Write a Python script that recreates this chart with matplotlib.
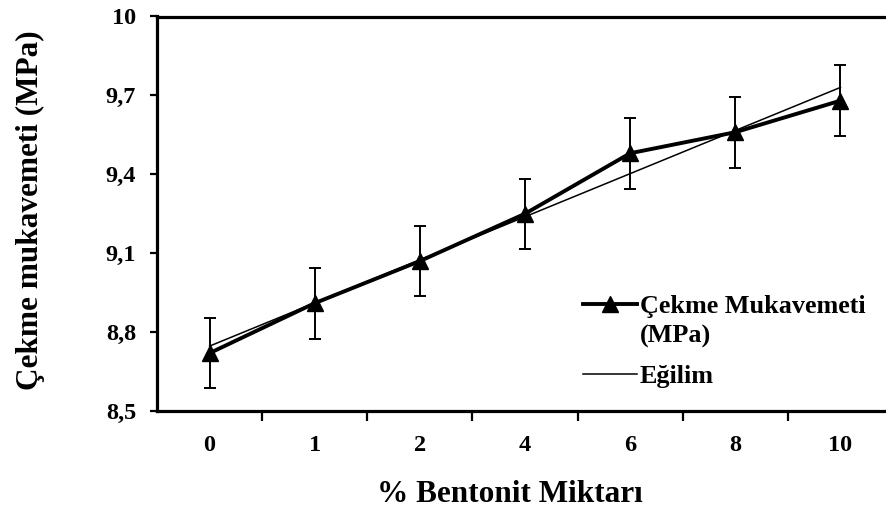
import numpy as np
import matplotlib
matplotlib.use("Agg")
import matplotlib.pyplot as plt
from matplotlib.ticker import FixedLocator, FuncFormatter

plt.rcParams['font.family'] = ['Liberation Serif', 'DejaVu Serif']
plt.rcParams['font.weight'] = 'bold'

categories = ["0", "1", "2", "4", "6", "8", "10"]
strength = [8.72, 8.91, 9.07, 9.25, 9.48, 9.56, 9.68]
strength_err = [0.133, 0.135, 0.133, 0.133, 0.135, 0.135, 0.134]
y_ticks = [8.5, 8.8, 9.1, 9.4, 9.7, 10.0]

W, H = 887, 512
fig = plt.figure(figsize=(W / 100, H / 100), dpi=100)
ax = fig.add_axes([157 / W, 1 - 411 / H, (893 - 157) / W, (411 - 16.5) / H])

pos = np.arange(len(categories))

# linear trend over the category positions
coef = np.polyfit(pos, strength, 1)
trend = np.polyval(coef, pos)

ax.errorbar(pos, strength, yerr=strength_err, fmt='none', ecolor='black',
            elinewidth=1.4, capsize=4.5, capthick=1.4, zorder=2)
line_main, = ax.plot(pos, strength, color='black', lw=2.8, marker='^',
                     markersize=12, markerfacecolor='black',
                     markeredgecolor='black', zorder=3,
                     label='Çekme Mukavemeti\n(MPa)')
line_trend, = ax.plot(pos[[0, -1]], trend[[0, -1]], color='black', lw=1.1,
                      zorder=4, label='Eğilim')

ax.set_xlim(-0.5, len(categories) - 0.5)
ax.set_ylim(8.5, 10.0)

ax.set_yticks(y_ticks)
ax.yaxis.set_major_formatter(FuncFormatter(
    lambda v, p: ('%g' % v).replace('.', ',')))

# tick marks between categories, labels at category centres
ax.xaxis.set_major_locator(FixedLocator(np.arange(0.5, len(categories) - 0.5, 1.0)))
ax.xaxis.set_major_formatter(FuncFormatter(lambda v, p: ''))
ax.xaxis.set_minor_locator(FixedLocator(pos))
ax.set_xticklabels(categories, minor=True)
ax.tick_params(axis='x', which='major', direction='out', length=7, width=1.6)
ax.tick_params(axis='x', which='minor', length=0, pad=17, labelsize=17.5)
ax.tick_params(axis='y', direction='out', length=5, width=1.6, pad=10,
               labelsize=17.5)

for side in ('left', 'bottom', 'top'):
    ax.spines[side].set_linewidth(2.3)
ax.spines['right'].set_visible(False)

ax.set_xlabel('% Bentonit Miktarı', fontsize=22.5, fontweight='bold')
ax.set_ylabel('Çekme mukavemeti (MPa)', fontsize=22.5, fontweight='bold')
ax.xaxis.set_label_coords(510 / W, 1 - 480 / H, transform=fig.transFigure)
ax.yaxis.set_label_coords(45 / W, 1 - 210 / H, transform=fig.transFigure)

leg = ax.legend(handles=[line_main, line_trend], loc='upper left',
                bbox_to_anchor=(583 / W, 1 - 295 / H),
                bbox_transform=fig.transFigure, frameon=False,
                fontsize=18.8, handlelength=2.05, handletextpad=0.12,
                labelspacing=0.65, borderaxespad=0, borderpad=0)
for txt in leg.get_texts():
    txt.set_linespacing(1.35)

# keep each legend handle level with the first line of its label
for column in leg._legend_handle_box.get_children():
    for item in column.get_children():
        item.align = 'top'

fig.savefig('out.png', dpi=100)
